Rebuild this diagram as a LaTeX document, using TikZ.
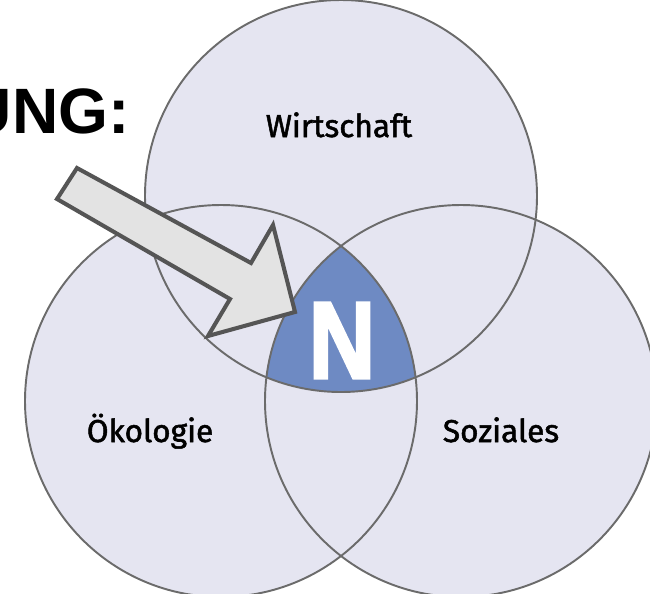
\documentclass[tikz,border=0pt]{standalone}
\usepackage{fontspec}
\setmainfont{Liberation Sans}
\newfontfamily\labelfont[FakeBold=1.6]{Fira Sans}
\newfontfamily\kernfont[BoldFeatures={FakeBold=3}]{Liberation Sans}
\definecolor{kreis}{HTML}{E5E5F1}
\definecolor{kreislinie}{HTML}{6B6B6B}
\definecolor{kern}{HTML}{6E8AC3}
\definecolor{pfeilfill}{HTML}{E3E3E3}
\definecolor{pfeilrand}{HTML}{555555}
\begin{document}
\begin{tikzpicture}[x=0.02cm,y=-0.02cm,
      kreisrand/.style={draw=kreislinie, line width=1.1pt},
      pfeil/.style={draw=pfeilrand, fill=pfeilfill, line width=2.3pt, line join=miter},
      mytext/.style={font=\labelfont\fontsize{18}{20}\selectfont, inner sep=0pt, anchor=base}]
    \useasboundingbox (0,0) rectangle (650,593);
    \clip (0,0) rectangle (650,593);
    \coordinate (W) at (341,196);
    \coordinate (O) at (221,401);
    \coordinate (S) at (461,401);
    \fill[kreis] (W) circle (196) (O) circle (196) (S) circle (196);
    \begin{scope}
      \clip (W) circle (196);
      \clip (O) circle (196);
      \fill[kern] (S) circle (196);
    \end{scope}
    \draw[kreisrand] (W) circle (196);
    \draw[kreisrand] (O) circle (196);
    \draw[kreisrand] (S) circle (196);
    \node[mytext] at (339,137) (A0) {Wirtschaft};
    \node[mytext] at (150,442) (A1) {Ökologie};
    \node[mytext] at (501,442) (A2) {Soziales};
    \node[inner sep=0pt, anchor=base, text=white,
      font=\kernfont\bfseries\fontsize{62}{62}\selectfont] at (342,378) (A3) {\scalebox{0.84}[1]{N}};
    \node[inner sep=0pt, anchor=base east,
      font=\bfseries\fontsize{36.5}{40}\selectfont] at (130,133) (A4) {UNG:};
    \draw[pfeil] (77,168) -- (251,263) -- (273,225) -- (295,312)
      -- (208,336) -- (230,299) -- (57,199) -- cycle ;
  \end{tikzpicture}
\end{document}
